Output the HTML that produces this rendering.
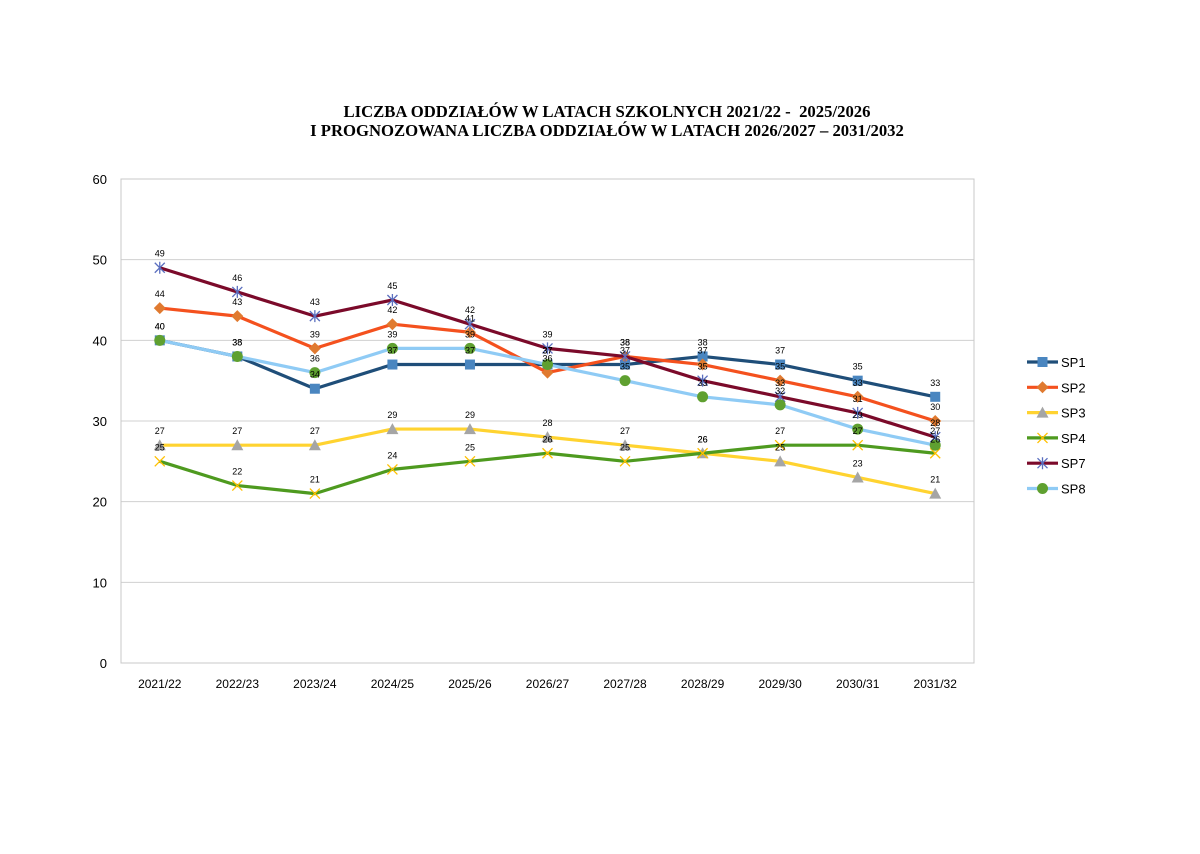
<!DOCTYPE html>
<html><head><meta charset="utf-8"><style>
body{margin:0;background:#fff;width:1200px;height:849px;overflow:hidden}
svg{font-family:"Liberation Sans",sans-serif}
</style></head><body>
<svg id="c" width="1200" height="849" xmlns="http://www.w3.org/2000/svg">
<text x="607" y="117" text-anchor="middle" font-family="Liberation Serif" font-weight="bold" font-size="16.7" style="white-space:pre">LICZBA ODDZIAŁÓW W LATACH SZKOLNYCH 2021/22 -  2025/2026</text>
<text x="607" y="136" text-anchor="middle" font-family="Liberation Serif" font-weight="bold" font-size="16.7">I PROGNOZOWANA LICZBA ODDZIAŁÓW W LATACH 2026/2027 – 2031/2032</text>
</svg>
<script>
const s=document.getElementById('c');const NS='http://www.w3.org/2000/svg';
function el(t,a,txt){const e=document.createElementNS(NS,t);for(const k in a)e.setAttribute(k,a[k]);if(txt!==undefined)e.textContent=txt;s.appendChild(e);return e;}
const X0=121,X1=974,Y0=663,Y1=179;const y=v=>Y0-(Y0-Y1)*v/60;const step=(X1-X0)/11;const x=i=>X0+step*(i+0.5);
for(let v=0;v<=60;v+=10){el('line',{x1:X0,x2:X1,y1:y(v),y2:y(v),stroke:'#d0d0d0','stroke-width':1});el('text',{x:107,y:y(v)+5,'text-anchor':'end','font-size':13},v);}
el('rect',{x:X0,y:Y1,width:X1-X0,height:Y0-Y1,fill:'none',stroke:'#c8c8c8'});
const cats=['2021/22','2022/23','2023/24','2024/25','2025/26','2026/27','2027/28','2028/29','2029/30','2030/31','2031/32'];
cats.forEach((c,i)=>el('text',{x:x(i),y:688,'text-anchor':'middle','font-size':12},c));
const S=[
['SP1','#1F4E79','#4A86C0','sq',[40,38,34,37,37,37,37,38,37,35,33]],
['SP2','#F4511E','#E07A30','di',[44,43,39,42,41,36,38,37,35,33,30]],
['SP3','#FFD330','#A5A5A5','tr',[27,27,27,29,29,28,27,26,25,23,21]],
['SP4','#4E9A1F','#FFC000','x',[25,22,21,24,25,26,25,26,27,27,26]],
['SP7','#7B0A2A','#5B6FBF','st',[49,46,43,45,42,39,38,35,33,31,28]],
['SP8','#8FCBF5','#5FA030','ci',[40,38,36,39,39,37,35,33,32,29,27]]];
function mk(t,cx,cy,c){
 if(t=='sq')el('rect',{x:cx-5,y:cy-5,width:10,height:10,fill:c});
 if(t=='di')el('polygon',{points:`${cx},${cy-6} ${cx+6},${cy} ${cx},${cy+6} ${cx-6},${cy}`,fill:c});
 if(t=='tr')el('polygon',{points:`${cx},${cy-6} ${cx+6},${cy+5} ${cx-6},${cy+5}`,fill:c});
 if(t=='ci')el('circle',{cx:cx,cy:cy,r:5.5,fill:c});
 if(t=='x'||t=='st'){el('path',{d:`M${cx-5} ${cy-5}L${cx+5} ${cy+5}M${cx-5} ${cy+5}L${cx+5} ${cy-5}`+(t=='st'?`M${cx} ${cy-6}L${cx} ${cy+6}`:''),stroke:c,'stroke-width':1.3,fill:'none'});}
}
S.forEach((r,k)=>{const [n,lc,mc,t,d]=r;
 el('polyline',{points:d.map((v,i)=>x(i)+','+y(v)).join(' '),fill:'none',stroke:lc,'stroke-width':3.2,'stroke-linejoin':'round'});
 d.forEach((v,i)=>mk(t,x(i),y(v),mc));
 const ly=362+k*25.3;el('line',{x1:1027,x2:1058,y1:ly,y2:ly,stroke:lc,'stroke-width':3.2});mk(t,1042.5,ly,mc);
 el('text',{x:1061,y:ly+5,'font-size':13},n);
});
S.forEach(r=>r[4].forEach((v,i)=>el('text',{x:x(i),y:y(v)-11,'text-anchor':'middle','font-size':9},v)));
</script>
</body></html>
